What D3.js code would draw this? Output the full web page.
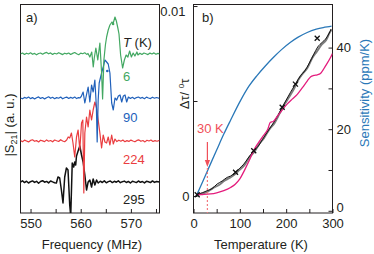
<!DOCTYPE html>
<html>
<head>
<meta charset="utf-8">
<script src="https://cdn.jsdelivr.net/npm/d3@7"></script>
<style>
  body { margin: 0; background: white; }
  svg text { font-family: "Liberation Sans", Arial, sans-serif; font-size: 13px; fill: #231f20; }
</style>
</head>
<body>
<svg id="plot" width="374" height="254"></svg>
<script>
// ---- panel a : |S21| spectra, [frequency MHz, deviation from baseline (a.u.)]
const spec6 = [[548,0],[548.4,1],[548.8,-0.5],[549.2,0.8],[549.6,0],[550,1.2],[550.4,-0.3],[550.8,0.6],[551.2,-0.8],[551.6,0.5],[552,1],[552.4,-0.2],[552.8,0.9],[553.2,1.6],[553.6,0.2],[554,1.1],[554.4,-0.4],[554.8,0.7],[555.2,0],[555.6,1.3],[556,0.4],[556.4,-0.6],[556.8,0.8],[557.2,0.1],[557.6,1],[558,-0.5],[558.4,0.6],[558.8,1.5],[559.2,0.2],[559.6,-0.7],[560,0.9],[560.4,0.3],[560.8,1.2],[561.2,-0.4],
  [561.45,0.5],[561.82,-3],[562.2,2],[562.5,-13],[562.7,-4],[563.02,6],[563.4,-6],[563.82,11],[564.16,-19],[564.36,-45],[564.62,-6],[564.92,9],[565.16,17],[565.48,24],[565.82,29],[566.23,32],[566.43,30],[566.83,37],[567.1,33],[567.4,26],[567.63,20],[567.95,-1],[568.35,-14],[568.7,-6],[569.05,-1],[569.4,-3],[569.75,3],[570.1,-3],[570.45,1],[570.8,-2],[571.2,2],[571.4,-1],
  [571.8,0.8],[572.2,-0.5],[572.6,1],[573,0.2],[573.4,-0.6],[573.8,0.9],[574.2,0],[574.6,1.1],[575,-0.3],[575.4,0.6],[575.7,0.2]];
const spec90 = [[548,0],[548.4,-0.8],[548.8,0.6],[549.2,-0.2],[549.6,1],[550,-0.6],[550.4,0.4],[550.8,-1],[551.2,0.3],[551.6,1.1],[552,-0.4],[552.4,0.5],[552.8,-0.9],[553.2,0.2],[553.6,1.2],[554,-0.3],[554.4,0.7],[554.8,-0.7],[555.2,0.4],[555.6,-0.2],[556,1],[556.4,-0.8],[556.8,0.3],[557.2,0.9],[557.6,-0.5],[558,0.6],[558.4,-0.3],[558.8,1],[559.2,-0.6],[559.55,0.4],
  [559.82,0],[560.1,1.5],[560.48,6],[560.82,-5],[561.1,2],[561.48,11],[561.82,-4],[562.16,13],[562.48,6],[562.82,18],[563.12,-9],[563.28,-44],[563.48,-2],[563.68,15],[564.16,25],[564.48,31],[564.82,38],[565.16,36],[565.48,34],[565.82,25],[566.17,-5],[566.49,-12],[566.83,0],[567.17,-2],[567.5,2],[567.83,3],[568.17,-4],[568.5,2],[568.83,3],[569.16,-4],[569.5,1],
  [569.9,-0.5],[570.3,0.7],[570.7,-0.8],[571.1,0.4],[571.5,1],[571.9,-0.3],[572.3,0.6],[572.7,-0.7],[573.1,0.9],[573.5,0],[573.9,-0.6],[574.3,0.8],[574.7,-0.2],[575.1,0.5],[575.7,-0.3]];
const spec224 = [[548,0.5],[548.4,-0.7],[548.8,0.9],[549.2,0],[549.6,-0.9],[550,0.6],[550.4,1.2],[550.8,-0.3],[551.2,0.4],[551.6,-1],[552,0.8],[552.4,0.1],[552.8,-0.6],[553.2,1.1],[553.6,-0.2],[554,0.5],[554.4,-0.8],[554.8,1],[555.2,0.2],[555.6,-0.5],[556,1.3],[556.4,0],[556.8,-0.7],
  [557.2,1],[557.5,4],[557.81,3],[558.15,8],[558.46,-2],[558.81,-16],[559.16,4],[559.48,11],[559.82,-9],[560.16,18],[560.42,21],[560.62,-52],[560.82,8],[561.16,24],[561.48,14],[561.82,31],[562.16,21],[562.48,31],[562.82,39],[563.16,33],[563.48,21],[563.82,8],[564.16,-7],[564.48,6],[564.82,-1],[565.16,-2],[565.48,4],[565.82,-4],[566.17,6],[566.49,-3],[566.83,2],
  [567.2,-0.6],[567.6,0.8],[568,-0.2],[568.4,1],[568.8,-0.7],[569.2,0.4],[569.6,-0.4],[570,0.9],[570.4,0],[570.8,-0.8],[571.2,0.6],[571.6,1.1],[572,-0.3],[572.4,0.5],[572.8,-0.9],[573.2,0.7],[573.6,0],[574,1],[574.4,-0.5],[574.8,0.4],[575.2,-0.2],[575.7,0.6]];
const spec295 = [[548,0],[548.4,1.2],[548.8,-0.6],[549.2,0.8],[549.6,-1],[550,0.3],[550.4,1.1],[550.8,-0.4],[551.2,0.7],[551.6,-1.2],[552,0.5],[552.4,1.3],[552.8,-0.2],[553.2,0.6],[553.6,-0.9],[554,1],[554.4,0.1],[554.8,-0.7],
  [555.15,-1],[555.47,5],[555.81,4],[556.15,-8],[556.47,-21],[556.81,5],[557.15,14],[557.47,12],[557.81,-23],[558.01,-34],[558.31,19],[558.6,15],[558.81,20],[559.0,17],[559.16,26],[559.48,31],[559.82,36],[560.16,27],[560.48,20],[560.82,7],[561.16,-8],[561.48,0],[561.82,2],[562.16,-5],[562.48,3],[562.82,-3],[563.16,2],[563.48,-1],
  [563.9,0.8],[564.3,-0.5],[564.7,1.1],[565.1,-0.8],[565.5,0.4],[565.9,1],[566.3,-0.6],[566.7,0.7],[567.1,-0.2],[567.5,1.2],[567.9,-0.7],[568.3,0.3],[568.7,0.9],[569.1,-0.5],[569.5,0.6],[569.9,-1],[570.3,0.8],[570.7,0.1],[571.1,-0.6],[571.5,1],[571.9,-0.3],[572.3,0.5],[572.7,-0.9],[573.1,0.7],[573.5,0.2],[573.9,-0.6],[574.3,1.1],[574.7,-0.4],[575.1,0.5],[575.7,0]];

const temps = ["6", "90", "224", "295"];
const spectra = [spec6, spec90, spec224, spec295];
const baseLevels = [159, 115, 72, 31];
const traceColors = ["#43a862", "#2161bb", "#ea3d40", "#111111"];
const peakDots = [[566.45, 30], [565.3, 27], null, null];
const freqTicks = [550, 555, 560, 565, 570, 575];

// ---- panel b : temperature dependence
const tempTicks = [0, 50, 100, 150, 200, 250, 300];
const shiftTicks = [0, 5, 10];          // x 1e-3
const sensTicks = [0, 10, 20, 30, 40];  // ppm/K

const dataT = [6,20,29.5,40,51,62,72.7,80,90.7,100,108.6,118,130,140,151.8,162,173.4,182,191.4,200,209.4,220,231,240,250,259.8,268,277.8,285,292,297];
const dataV = [0.07,0.18,0.28,0.39,0.63,0.79,0.98,1.05,1.25,1.47,1.68,2.0,2.38,2.63,3.09,3.47,3.88,4.24,4.67,5.05,5.46,5.89,6.33,6.58,7.0,7.47,7.84,8.09,8.26,8.53,8.79];
const grayT = [6,18,30,42,55,66,78,88,98,110,120,132,142,152,164,175,186,196,206,216,226,236,246,256,266,276,286,294,298];
const grayV = [0.05,0.12,0.22,0.42,0.58,0.8,0.95,1.12,1.35,1.62,2.02,2.35,2.75,3.05,3.52,3.85,4.35,4.8,5.2,5.6,6.1,6.45,6.75,7.25,7.6,7.95,8.2,8.6,8.75];
const fitT = [6,20,36.7,50,65.4,80,90,100,110,120,130,140,150,160,166,172,181,192,202.5,213,224,235,245.4,253,259.8,267,274,285,296,300];
const fitV = [0.07,0.08,0.11,0.17,0.28,0.45,0.62,0.9,1.35,1.85,2.4,2.8,3.15,3.5,3.88,3.92,4.2,4.55,4.85,5.1,5.35,5.7,6.05,6.28,6.35,6.38,6.45,6.85,7.3,7.5];
const sensT = [6,20,36.7,50,65.4,80,101.4,120,137.5,155,173.3,190,209.4,225,245.4,265,280,295.7,298];
const sensS = [3.6,7.2,11.5,14.9,18.8,22.2,27.0,30.6,33.2,35.5,37.7,39.5,41.3,42.5,43.7,44.5,44.9,45.2,45.25];
const markT = [8, 90.7, 130, 191.4, 220, 267];
const markV = [0.07, 1.25, 2.38, 4.67, 5.89, 8.3];

const svg = d3.select("#plot");
const boxA = {left: 20.5, right: 159.5, top: 4.5, bottom: 213};
const boxB = {left: 193.5, right: 332.5, top: 4.5, bottom: 213};

// frames
[boxA, boxB].forEach((b) => {
  svg.append("rect")
    .attr("x", b.left).attr("y", b.top)
    .attr("width", b.right - b.left).attr("height", b.bottom - b.top)
    .attr("fill", "none").attr("stroke", "#231f20").attr("stroke-width", 1);
});

// ===== panel a =====
const xA = d3.scaleLinear().domain([548, 575.7]).range([boxA.left, boxA.right]);
const yA = d3.scaleLinear().domain([0, 209]).range([213, 4]);

svg.append("clipPath").attr("id", "clipA")
  .append("rect").attr("x", boxA.left).attr("y", boxA.top)
  .attr("width", boxA.right - boxA.left).attr("height", boxA.bottom - boxA.top);

const traces = svg.append("g").attr("clip-path", "url(#clipA)");
[3, 2, 1, 0].forEach((i) => {
  const line = d3.line()
    .x((d) => xA(d[0]))
    .y((d) => yA(baseLevels[i] + d[1]));
  traces.append("path")
    .datum(spectra[i])
    .attr("d", line)
    .attr("fill", "none")
    .attr("stroke", traceColors[i])
    .attr("stroke-width", i === 3 ? 1.5 : 1.2)
    .attr("stroke-linejoin", "round");
  if (peakDots[i]) {
    traces.append("circle")
      .attr("cx", xA(peakDots[i][0]))
      .attr("cy", yA(baseLevels[i] + peakDots[i][1]))
      .attr("r", 1.3)
      .attr("fill", traceColors[i]);
  }
});

const axA = svg.append("g")
  .attr("transform", "translate(0," + boxA.bottom + ")")
  .attr("color", "#231f20")
  .call(d3.axisBottom(xA).tickValues(freqTicks).tickSizeInner(-4).tickSizeOuter(0).tickPadding(6)
    .tickFormat((d) => d % 10 === 0 ? d : ""));
axA.select(".domain").remove();

// temperature labels
const labY = [80.7, 121.7, 164.3, 203.7];
temps.forEach((t, i) => {
  svg.append("text").attr("x", 123).attr("y", labY[i])
    .style("fill", i === 3 ? "#231f20" : traceColors[i])
    .text(t);
});
const tk = svg.append("text").attr("x", 123).attr("y", 47);
tk.append("tspan").style("font-style", "italic").text("T");
tk.append("tspan").text(" (K)");

svg.append("text").attr("x", 26).attr("y", 22).text("a)");

svg.append("text").attr("x", 92).attr("y", 248.5)
  .attr("text-anchor", "middle").text("Frequency (MHz)");

const sLab = svg.append("text")
  .attr("transform", "translate(14,125) rotate(-90)")
  .attr("text-anchor", "middle");
sLab.append("tspan").text("|S");
sLab.append("tspan").attr("dy", 3).style("font-size", "9px").text("21");
sLab.append("tspan").attr("dy", -3).text("| (a. u.)");

// ===== panel b =====
const xB = d3.scaleLinear().domain([0, 300]).range([boxB.left, boxB.right]);
const yL = d3.scaleLinear().domain([-0.895, 10.08]).range([boxB.bottom, boxB.top]);
const yR = d3.scaleLinear().domain([-0.54, 50.56]).range([boxB.bottom, boxB.top]);

const axB = svg.append("g")
  .attr("transform", "translate(0," + boxB.bottom + ")")
  .attr("color", "#231f20")
  .call(d3.axisBottom(xB).tickValues(tempTicks).tickSizeInner(-4).tickSizeOuter(0).tickPadding(6)
    .tickFormat((d) => d % 100 === 0 ? d : ""));
axB.select(".domain").remove();

const axL = svg.append("g")
  .attr("transform", "translate(" + boxB.left + ",0)")
  .attr("color", "#231f20")
  .call(d3.axisLeft(yL).tickValues(shiftTicks).tickSizeInner(-4).tickSizeOuter(0).tickPadding(4)
    .tickFormat((d) => d === 0 ? "0" : (d === 10 ? "0.01" : "")));
axL.select(".domain").remove();
axL.selectAll(".tick text").filter((d) => d === 10).attr("dx", -4).attr("dy", "0.72em");

const axR = svg.append("g")
  .attr("transform", "translate(" + boxB.right + ",0)")
  .attr("color", "#231f20")
  .call(d3.axisRight(yR).tickValues(sensTicks).tickSizeInner(-4).tickSizeOuter(0).tickPadding(4)
    .tickFormat((d) => d % 20 === 0 ? d : ""));
axR.select(".domain").remove();
// keep the right "0" clear of the "300" below it
axR.selectAll(".tick text").filter((d) => d === 0).attr("dy", "0.05em");

svg.append("clipPath").attr("id", "clipB")
  .append("rect").attr("x", boxB.left).attr("y", boxB.top)
  .attr("width", boxB.right - boxB.left).attr("height", boxB.bottom - boxB.top);
const curves = svg.append("g").attr("clip-path", "url(#clipB)");

const lineL = d3.line().curve(d3.curveMonotoneX)
  .x((d) => xB(d[0])).y((d) => yL(d[1]));
const lineR = d3.line().curve(d3.curveMonotoneX)
  .x((d) => xB(d[0])).y((d) => yR(d[1]));

curves.append("path").datum(sensT.map((t, i) => [t, sensS[i]]))
  .attr("d", lineR).attr("fill", "none").attr("stroke", "#2a78b8").attr("stroke-width", 1.3);

curves.append("path").datum(grayT.map((t, i) => [t, grayV[i]]))
  .attr("d", lineL).attr("fill", "none").attr("stroke", "#7d7d7d").attr("stroke-width", 2);

curves.append("path").datum(dataT.map((t, i) => [t, dataV[i]]))
  .attr("d", lineL).attr("fill", "none").attr("stroke", "#111").attr("stroke-width", 1);

curves.append("path").datum(fitT.map((t, i) => [t, fitV[i]]))
  .attr("d", lineL).attr("fill", "none").attr("stroke", "#e41d7d").attr("stroke-width", 1.3);

curves.selectAll("path.mark")
  .data(markT.map((t, i) => [t, markV[i]]))
  .enter().append("path")
  .attr("class", "mark")
  .attr("transform", (d) => "translate(" + xB(d[0]) + "," + yL(d[1]) + ")")
  .attr("d", "M-2.5,-2.5L2.5,2.5M-2.5,2.5L2.5,-2.5")
  .attr("stroke", "#111").attr("stroke-width", 1.3);

// 30 K marker
const x30 = xB(30);
svg.append("line")
  .attr("x1", x30).attr("x2", x30).attr("y1", 168).attr("y2", boxB.bottom)
  .attr("stroke", "#f27a80").attr("stroke-width", 1.2).attr("stroke-dasharray", "2,2");
svg.append("line")
  .attr("x1", x30).attr("x2", x30).attr("y1", 142).attr("y2", 161)
  .attr("stroke", "#f0505a").attr("stroke-width", 1.2);
svg.append("path")
  .attr("d", "M" + (x30 - 2.6) + ",160L" + (x30 + 2.6) + ",160L" + x30 + ",167Z")
  .attr("fill", "#f0505a");
svg.append("text").attr("x", 197).attr("y", 132.7)
  .style("fill", "#f0505a").text("30 K");

svg.append("text").attr("x", 202).attr("y", 22).text("b)");

svg.append("text").attr("x", 261).attr("y", 248.5)
  .attr("text-anchor", "middle").text("Temperature (K)");

svg.append("text")
  .attr("transform", "translate(368.5,93) rotate(-90)")
  .attr("text-anchor", "middle")
  .style("fill", "#2a78b8")
  .text("Sensitivity (ppm/K)");

const dLab = svg.append("text")
  .attr("transform", "translate(189,94) rotate(-90)")
  .attr("text-anchor", "middle");
dLab.append("tspan").text("Δτ/ ");
dLab.append("tspan").attr("dy", -5).style("font-size", "8px").text("0");
dLab.append("tspan").attr("dy", 5).text("τ");
</script>
</body>
</html>
